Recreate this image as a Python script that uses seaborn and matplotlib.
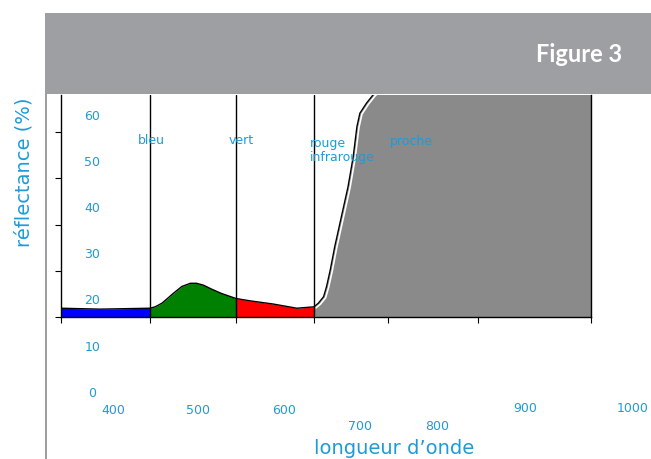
import numpy as np
import pandas as pd
import matplotlib
matplotlib.use("Agg")
import matplotlib.pyplot as plt
import matplotlib.transforms as mtransforms
from matplotlib.patches import Rectangle
import seaborn as sns

# reflectance curve (wavelength in nm, reflectance in %)
wavelength = [400, 444, 500, 506, 514, 519, 527, 537, 547, 554, 562, 572, 583, 600,
              618, 648, 678, 700,
              706, 713, 717, 722, 728, 737, 746, 753, 758, 762, 771, 780, 800, 900, 1000]
reflectance = [21.9, 21.7, 21.9, 22.2, 23.0, 23.8, 25.1, 26.6, 27.3, 27.3, 26.9, 26.0, 25.1, 24.0,
               23.5, 22.8, 21.9, 22.2,
               23.0, 24.4, 26.6, 30.2, 35.2, 41.7, 48.2, 54.7, 61.2, 64.1, 66.3, 68.1, 71.0, 73.0, 74.0]

# spectral bands
band_start = [400, 500, 600, 700]
band_end = [500, 600, 700, 1000]
band_colors = ["#0000ff", "#008000", "#ff0000", "#8a8a8a"]
band_lines = [500, 600, 700]

xtick_vals = [400, 500, 600, 700, 800, 900, 1000]
ytick_vals = [20, 30, 40, 50, 60]
ylabel_vals = [60, 50, 40, 30, 20, 10, 0]

W, H = 651, 459
BLUE_TXT = "#1e9bd7"

# uneven pixel placement of the wavelength ticks in the original drawing
knot_wl = [300] + xtick_vals + [1100]
knot_px = [-28, 61, 150, 236, 314, 388, 478, 591, 704]


def fwd(x):
    return np.interp(x, knot_wl, knot_px)


def inv(p):
    return np.interp(p, knot_px, knot_wl)


df = pd.DataFrame({"wavelength": wavelength, "reflectance": reflectance})

sns.set_style("white")
plt.rcParams["font.family"] = ["DejaVu Sans"]

fig = plt.figure(figsize=(W / 100, H / 100), dpi=100)
ax = fig.add_axes([61 / W, (H - 317) / H, (591 - 61) / W, (317 - 95) / H])
ax.set_xscale("function", functions=(fwd, inv))
ax.set_xlim(400, 1000)
ax.set_ylim(20, 68.05)

x = df["wavelength"].to_numpy()
y = df["reflectance"].to_numpy()
for lo, hi, c in zip(band_start, band_end, band_colors):
    ax.fill_between(x, 20, y, where=(x >= lo) & (x <= hi), color=c, lw=0, zorder=1)

nir = df[df["wavelength"] >= 700]
shift = mtransforms.offset_copy(ax.transData, fig=fig, x=2, y=-1, units="dots")
ax.plot(nir["wavelength"], nir["reflectance"], color="white", lw=1.2, transform=shift, zorder=2)
sns.lineplot(data=df, x="wavelength", y="reflectance", color="black", lw=1.0, ax=ax, zorder=3)

for v in band_lines:
    ax.axvline(v, color="black", lw=1.0, zorder=4)

for side in ["left", "bottom", "right"]:
    ax.spines[side].set_color("black")
    ax.spines[side].set_linewidth(1.0)
    ax.spines[side].set_zorder(5)
ax.spines["top"].set_visible(False)

ax.set_xticks(xtick_vals)
ax.set_yticks(ytick_vals)
ax.set_xticklabels([])
ax.set_yticklabels([])
ax.minorticks_off()
ax.tick_params(axis="both", direction="out", length=4, width=0.8, color="black",
               bottom=True, left=True)
ax.set_xlabel("")
ax.set_ylabel("")

# misplaced y tick labels
for v in ylabel_vals:
    ax.text(435, v + 3.5, str(v), ha="center", va="center", color=BLUE_TXT,
            fontsize=9, clip_on=False)

# misplaced x tick labels (pixel positions from the original)
xlab_px = [(113, 410), (198, 410), (284, 410), (360, 427), (437, 427), (525, 409), (633, 409)]
for v, (px, py) in zip(xtick_vals, xlab_px):
    fig.text(px / W, 1 - py / H, str(v), ha="center", va="center", color=BLUE_TXT, fontsize=9)

# band names
for s, px, py in [("bleu", 138, 141), ("vert", 229, 141), ("rouge", 310, 143),
                  ("infrarouge", 310, 158), ("proche", 390, 142)]:
    fig.text(px / W, 1 - py / H, s, ha="left", va="center", color=BLUE_TXT, fontsize=9)

# axis titles
fig.text(24 / W, 1 - 172 / H, "réflectance (%)", rotation=90, ha="center", va="center",
         color=BLUE_TXT, fontsize=14)
fig.text(394 / W, 1 - 449 / H, "longueur d\u2019onde", ha="center", va="center",
         color=BLUE_TXT, fontsize=14)

# header band and left frame line
fig.add_artist(Rectangle((45 / W, 1 - 94 / H), (W - 45) / W, 81 / H,
                         transform=fig.transFigure, color="#9e9fa3", lw=0, zorder=10))
fig.add_artist(Rectangle((44.5 / W, 0), 2.3 / W, 1 - 94 / H,
                         transform=fig.transFigure, color="#9e9fa3", lw=0, zorder=10))
fig.text(622 / W, 1 - 54 / H, "Figure 3", ha="right", va="center", color="white",
         fontsize=17, fontweight="bold", family=["Lato", "DejaVu Sans"], zorder=11)

fig.savefig("out.png", dpi=100)
